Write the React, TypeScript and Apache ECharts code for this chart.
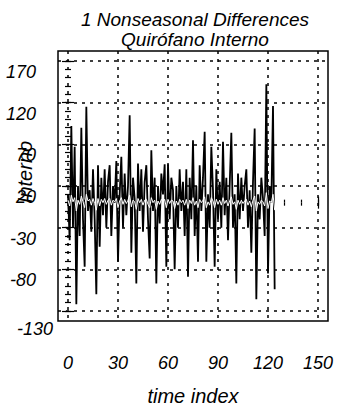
import React, { useEffect, useRef } from "react";
import * as echarts from "echarts";

const titleLines = ["1 Nonseasonal Differences", "Quirófano Interno"];
const yAxisTitle = "Interno";
const xAxisTitle = "time index";
const xTickLabels = [0, 30, 60, 90, 120, 150];
const yTickValues = [-130, -80, -30, 20, 70, 120, 170];
const yTickLabels = [-80, -30, 20, 70, 120, 170];
const yCornerLabel = [-130];
const xMinorTicks = [0, 10, 20, 30, 40, 50, 60, 70, 80, 90, 100, 110, 120, 130, 140, 150];
const yMinorTicks = [-130, -120, -110, -100, -90, -80, -70, -60, -50, -40, -30, -20, -10, 0, 10, 20, 30, 40, 50, 60, 70, 80, 90, 100, 110, 120, 130, 140, 150, 160, 170];

const differences = [
  10, -45, 92, -30, 67, -122, 20, -40, 90, -20,
  -77, 115, -10, 15, -35, 40, -20, -110, 45, -53,
  30, -15, 40, -30, 25, 45, -40, 20, 0, 50,
  -71, 10, 55, -30, 35, -15, 20, 105, -60, 30,
  5, -97, 47, -10, 40, -35, 25, 45, -20, -67,
  63, -10, 30, -97, 20, -25, 35, 10, 46, -77,
  46, -20, 30, 15, -80, 20, -30, 40, -10, 25,
  -40, 40, -89, 30, -20, 75, -40, 20, -71, 45,
  -10, 30, 85, -71, 10, -30, 67, 15, -77, 40,
  -20, 25, -30, 73, -15, 30, -45, 20, 84, -30,
  10, -97, 35, -20, 30, -10, 20, 40, -30, 15,
  -60, 25, 89, -116, 10, -20, 30, 5, -40, 142,
  -85, 20, 0, 116, -104,
];

const fitted = [
  3, -4, 9, 1, 6, -10, 3, -2, 8, 1,
  -6, 10, 2, 4, -3, 5, -1, -9, 5, -4,
  4, 0, 5, -2, 3, 5, -3, 3, 1, 5,
  -6, 2, 6, -2, 4, -1, 3, 9, -5, 3,
  1, -8, 5, 0, 4, -3, 3, 4, -2, -6,
  6, 0, 3, -8, 2, -2, 4, 1, 4, -6,
  4, -1, 3, 2, -7, 2, -3, 4, 0, 3,
  -3, 4, -7, 3, -1, 6, -3, 2, -6, 4,
  0, 3, 7, -6, 1, -3, 6, 2, -6, 4,
  -2, 3, -3, 6, -1, 3, -4, 2, 7, -2,
  1, -8, 3, -2, 3, -1, 2, 4, -3, 2,
  -5, 3, 8, -10, 1, -2, 3, 1, -4, 12,
  -7, 2, 0, 10, -9,
];

const FONT = '"Liberation Sans", Arial, sans-serif';
const X_MIN = -6;
const X_MAX = 156;
const Y_MIN = -142;
const Y_MAX = 182;

export default function App() {
  const ref = useRef<HTMLDivElement>(null);

  useEffect(() => {
    document.body.style.margin = "0";
    if (!ref.current) return;
    const chart = echarts.init(ref.current, undefined, { renderer: "svg" });

    const tickStyle = { color: "#000", width: 1.2 };
    const noLabel = { show: false };
    const noSplit = { show: false };
    const noLine = { show: false };

    const xBase = { type: "value" as const, min: X_MIN, max: X_MAX, axisLine: noLine };
    const yBase = { type: "value" as const, min: Y_MIN, max: Y_MAX, axisLine: noLine };

    chart.setOption({
      animation: false,
      backgroundColor: "#fff",
      title: {
        text: titleLines.join("\n"),
        left: 195,
        top: 9,
        padding: 0,
        textAlign: "center",
        textStyle: {
          fontSize: 19,
          lineHeight: 20,
          fontStyle: "italic",
          fontWeight: "normal",
          color: "#000",
          fontFamily: FONT,
        },
      },
      grid: {
        left: 58,
        top: 51,
        right: 11,
        bottom: 86,
        show: true,
        borderColor: "#000",
        borderWidth: 1.5,
        backgroundColor: "transparent",
      },
      graphic: [
        {
          type: "text",
          x: 25,
          y: 172,
          rotation: Math.PI / 2,
          style: {
            text: yAxisTitle,
            fontSize: 20,
            fontStyle: "italic",
            fontFamily: FONT,
            fill: "#000",
            align: "center",
            verticalAlign: "middle",
          },
        },
      ],
      xAxis: [
        {
          ...xBase,
          position: "bottom",
          axisTick: { show: true, inside: true, length: 6, customValues: xTickLabels, lineStyle: tickStyle },
          axisLabel: {
            customValues: xTickLabels,
            margin: 33,
            fontSize: 18,
            fontStyle: "italic",
            color: "#000",
            fontFamily: FONT,
          },
          splitLine: { show: true, lineStyle: { color: "#000", type: [3, 5], width: 1.5 } },
          name: xAxisTitle,
          nameLocation: "middle",
          nameGap: 65,
          nameTextStyle: { fontSize: 20, fontStyle: "italic", color: "#000", fontFamily: FONT },
        },
        {
          ...xBase,
          position: "bottom",
          axisTick: { show: true, inside: true, length: 3, customValues: xMinorTicks, lineStyle: tickStyle },
          axisLabel: noLabel,
          splitLine: noSplit,
        },
        {
          ...xBase,
          position: "top",
          axisTick: { show: true, inside: true, length: 6, customValues: xTickLabels, lineStyle: tickStyle },
          axisLabel: noLabel,
          splitLine: noSplit,
        },
        {
          ...xBase,
          position: "top",
          axisTick: { show: true, inside: true, length: 3, customValues: xMinorTicks, lineStyle: tickStyle },
          axisLabel: noLabel,
          splitLine: noSplit,
        },
      ],
      yAxis: [
        {
          ...yBase,
          position: "left",
          axisTick: { show: true, inside: true, length: 6, customValues: yTickValues, lineStyle: tickStyle },
          axisLabel: {
            customValues: yTickLabels,
            margin: 22,
            fontSize: 18,
            fontStyle: "italic",
            color: "#000",
            fontFamily: FONT,
            verticalAlign: "top",
            padding: [2, 0, 0, 0],
          },
          splitLine: { show: true, lineStyle: { color: "#000", type: [3, 5], width: 1.5 } },
        },
        {
          ...yBase,
          position: "left",
          axisTick: { show: true, inside: true, length: 3, customValues: yMinorTicks, lineStyle: tickStyle },
          axisLabel: {
            customValues: yCornerLabel,
            margin: 5,
            fontSize: 18,
            fontStyle: "italic",
            color: "#000",
            fontFamily: FONT,
            verticalAlign: "top",
            padding: [9, 0, 0, 0],
          },
          splitLine: noSplit,
        },
        {
          ...yBase,
          position: "right",
          axisTick: { show: true, inside: true, length: 6, customValues: yTickValues, lineStyle: tickStyle },
          axisLabel: noLabel,
          splitLine: noSplit,
        },
        {
          ...yBase,
          position: "right",
          axisTick: { show: true, inside: true, length: 3, customValues: yMinorTicks, lineStyle: tickStyle },
          axisLabel: noLabel,
          splitLine: noSplit,
        },
      ],
      series: [
        {
          type: "line",
          xAxisIndex: 0,
          yAxisIndex: 0,
          data: differences.map((v, i) => [i, v]),
          symbol: "none",
          lineStyle: { color: "#000", width: 1.8 },
          z: 3,
        },
        {
          type: "line",
          xAxisIndex: 0,
          yAxisIndex: 0,
          data: fitted.map((v, i) => [i, v]),
          symbol: "none",
          lineStyle: { color: "#fff", width: 1 },
          z: 4,
        },
      ],
    });

    return () => chart.dispose();
  }, []);

  return <div ref={ref} style={{ width: 339, height: 411 }} />;
}
